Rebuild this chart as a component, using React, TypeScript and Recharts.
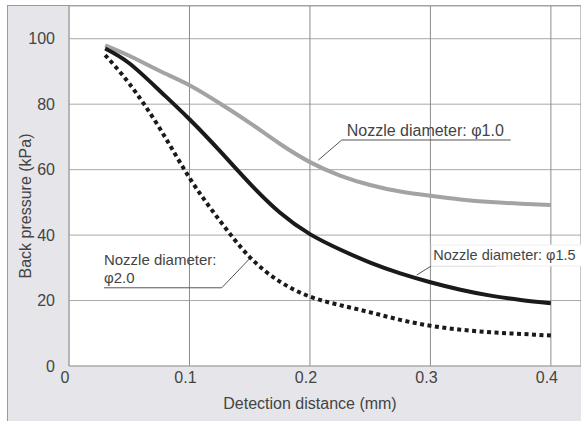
import React from 'react';
import { LineChart, Line, XAxis, YAxis, CartesianGrid, ReferenceLine, ReferenceDot } from 'recharts';

// detection distance (mm)
const distance = [0.03, 0.05, 0.075, 0.1, 0.125, 0.15, 0.175, 0.2, 0.225, 0.25, 0.275, 0.3, 0.325, 0.35, 0.375, 0.4];
// back pressure (kPa) per nozzle diameter
const nozzle10 = [98, 94.8, 90.2, 85.8, 80.3, 74.3, 67.9, 62.3, 58.2, 55.3, 53.3, 52, 50.9, 50.1, 49.6, 49.2];
const nozzle15 = [97, 92.5, 84.2, 75.4, 65.8, 55.8, 46.9, 40.3, 35.6, 31.6, 28.3, 25.6, 23.3, 21.5, 20.2, 19.2];
const nozzle20 = [95, 86.3, 72.8, 57.5, 44.5, 33.3, 25.8, 21.2, 18.6, 16.4, 14.1, 12.3, 11.1, 10.3, 9.8, 9.3];

const xTicks = [0, 0.1, 0.2, 0.3, 0.4];
const yTicks = [0, 20, 40, 60, 80, 100];

// callouts: text anchor in data units + leader polyline (curve point -> elbow -> end of underline)
const notes = [
    { lines: ['Nozzle diameter: φ1.0'], x: 0.2305, y: 70.3, size: 16, box: false },
    { lines: ['Nozzle diameter: φ1.5'], x: 0.3024, y: 32.4, size: 14.5, box: true },
    { lines: ['Nozzle diameter:', 'φ2.0'], x: 0.029, y: 30.9, size: 15, box: false },
];
const leaders = [
    [{ x: 0.2069, y: 62.9 }, { x: 0.2264, y: 69.06 }, { x: 0.3667, y: 69.06 }],
    [{ x: 0.2886, y: 27.8 }, { x: 0.3011, y: 30.65 }, { x: 0.355, y: 30.65 }],
    [{ x: 0.1502, y: 32.9 }, { x: 0.1268, y: 23.9 }, { x: 0.029, y: 23.9 }],
];

const data = distance.map((d, i) => ({ x: d, a: nozzle10[i], b: nozzle15[i], c: nozzle20[i] }));

const FONT = '"Liberation Sans", Arial, sans-serif';
const TEXT = '#444';

const renderNote = (p: any, note: typeof notes[number]) => {
    const { x, y } = p.viewBox;
    return (
        <g>
            {note.box && <rect x={x - 2} y={y - 15} width={160} height={21} fill="#fff" stroke="#eee" />}
            <text x={x} y={y} fontSize={note.size} fill={TEXT} fontFamily={FONT}>
                {note.lines.map((l, i) => (
                    <tspan key={i} x={x} dy={i === 0 ? 0 : 18.5}>{l}</tspan>
                ))}
            </text>
        </g>
    );
};

const XTitle = (p: any) => {
    const vb = p.viewBox;
    return (
        <text x={vb.x + vb.width / 2 - 15} y={vb.y + 42.5} textAnchor="middle" fontSize={16} fill={TEXT} fontFamily={FONT}>
            Detection distance (mm)
        </text>
    );
};

const YTitle = (p: any) => {
    const vb = p.viewBox;
    const cx = vb.x + 25;
    const cy = vb.y + vb.height / 2 + 20;
    return (
        <text x={cx} y={cy} transform={`rotate(-90 ${cx} ${cy})`} textAnchor="middle" dominantBaseline="central" fontSize={16} fill={TEXT} fontFamily={FONT}>
            Back pressure (kPa)
        </text>
    );
};

export default function App() {
    return (
        <div style={{ position: 'relative', width: 581, height: 421, background: '#fff', fontFamily: FONT }}>
            <style>{'body{margin:0}'}</style>
            <div style={{ position: 'absolute', left: 7, top: 5, right: 0, bottom: 0, background: '#e6e6ea', borderLeft: '1px solid #9a9a9a', borderTop: '1px solid #9a9a9a' }} />
            <div style={{ position: 'absolute', left: 0, top: 0 }}>
                <LineChart width={581} height={421} data={data} margin={{ top: 6, right: 0, bottom: 0, left: 0 }}>
                    <CartesianGrid fill="#fff" vertical={false} stroke="#aaa" />
                    <CartesianGrid horizontal={false} stroke="#8c8c8c" />
                    <XAxis
                        type="number"
                        dataKey="x"
                        domain={[0, 0.425]}
                        ticks={xTicks}
                        allowDataOverflow
                        height={55}
                        axisLine={{ stroke: '#aaa' }}
                        tickLine={false}
                        tickSize={6}
                        tickMargin={0}
                        tick={{ fontSize: 16, fill: TEXT, fontFamily: FONT, dx: -4 }}
                        label={{ content: XTitle }}
                    />
                    <YAxis
                        type="number"
                        domain={[0, 110]}
                        ticks={yTicks}
                        allowDataOverflow
                        width={69}
                        axisLine={{ stroke: '#aaa' }}
                        tickLine={false}
                        tickSize={6}
                        tickMargin={8}
                        tick={{ fontSize: 16, fill: TEXT, fontFamily: FONT }}
                        label={{ content: YTitle }}
                    />
                    {leaders.map((pts, i) =>
                        pts.slice(1).map((pt, j) => (
                            <ReferenceLine key={`l${i}-${j}`} segment={[pts[j], pt]} stroke="#555" strokeWidth={1} ifOverflow="visible" />
                        ))
                    )}
                    {notes.map((n, i) => (
                        <ReferenceDot key={`n${i}`} x={n.x} y={n.y} r={0} fill="none" stroke="none" ifOverflow="visible" label={(p: any) => renderNote(p, n)} />
                    ))}
                    <Line type="natural" dataKey="a" stroke="#a3a3a3" strokeWidth={4} dot={false} isAnimationActive={false} />
                    <Line type="natural" dataKey="b" stroke="#1a1a1a" strokeWidth={4} dot={false} isAnimationActive={false} />
                    <Line type="natural" dataKey="c" stroke="#1a1a1a" strokeWidth={4} strokeDasharray="4 3.5" dot={false} isAnimationActive={false} />
                </LineChart>
            </div>
        </div>
    );
}
